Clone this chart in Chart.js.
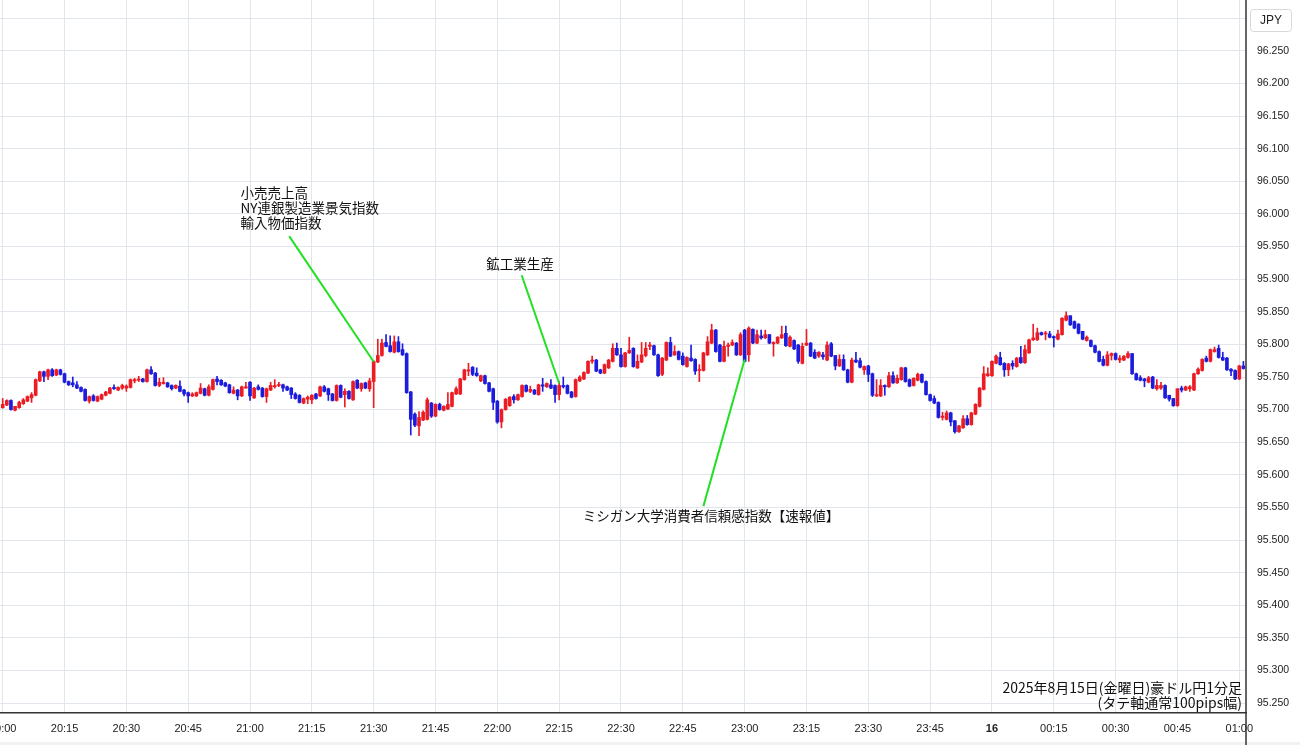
<!DOCTYPE html>
<html lang="ja">
<head>
<meta charset="utf-8">
<title>豪ドル円1分足</title>
<script src="https://cdn.jsdelivr.net/npm/chart.js@4.4.1/dist/chart.umd.min.js"></script>
<style>
  html, body { margin: 0; padding: 0; background: #fff; }
  #wrap { position: relative; width: 1300px; height: 745px; }
</style>
</head>
<body>
<div id="wrap"><canvas id="chart"></canvas></div>
<script>
// 1 candle per minute, index 0 = 20:00 (2025-08-15)
const openV = [
  95.703, 95.707, 95.714, 95.699, 95.703, 95.709, 95.713, 95.718, 95.722, 95.744,
  95.758, 95.751, 95.761, 95.753, 95.761, 95.755, 95.743, 95.741, 95.738, 95.734,
  95.731, 95.713, 95.721, 95.713, 95.716, 95.722, 95.725, 95.734, 95.730, 95.733,
  95.733, 95.734, 95.744, 95.745, 95.747, 95.743, 95.761, 95.756, 95.737, 95.740,
  95.741, 95.737, 95.733, 95.736, 95.730, 95.726, 95.721, 95.721, 95.725, 95.732,
  95.722, 95.731, 95.747, 95.745, 95.741, 95.738, 95.725, 95.730, 95.721, 95.733,
  95.742, 95.718, 95.735, 95.733, 95.720, 95.730, 95.735, 95.737, 95.738, 95.735,
  95.733, 95.724, 95.722, 95.710, 95.716, 95.715, 95.724, 95.721, 95.735, 95.732,
  95.724, 95.714, 95.737, 95.723, 95.728, 95.715, 95.745, 95.732, 95.741, 95.732,
  95.743, 95.773, 95.783, 95.803, 95.798, 95.788, 95.804, 95.792, 95.786, 95.727,
  95.693, 95.675, 95.684, 95.685, 95.710, 95.690, 95.708, 95.699, 95.701, 95.705,
  95.724, 95.724, 95.746, 95.759, 95.765, 95.756, 95.744, 95.752, 95.741, 95.732,
  95.713, 95.681, 95.700, 95.706, 95.720, 95.715, 95.720, 95.737, 95.728, 95.730,
  95.723, 95.738, 95.735, 95.738, 95.737, 95.723, 95.737, 95.737, 95.727, 95.720,
  95.744, 95.747, 95.756, 95.774, 95.776, 95.761, 95.756, 95.764, 95.774, 95.794,
  95.784, 95.766, 95.787, 95.794, 95.764, 95.773, 95.783, 95.797, 95.798, 95.784,
  95.754, 95.776, 95.803, 95.784, 95.789, 95.782, 95.766, 95.779, 95.777, 95.760,
  95.760, 95.784, 95.802, 95.822, 95.799, 95.774, 95.797, 95.799, 95.802, 95.784,
  95.822, 95.784, 95.823, 95.802, 95.813, 95.810, 95.815, 95.801, 95.802, 95.810,
  95.817, 95.797, 95.806, 95.799, 95.771, 95.799, 95.802, 95.788, 95.782, 95.784,
  95.776, 95.801, 95.783, 95.767, 95.777, 95.761, 95.742, 95.776, 95.775, 95.761,
  95.767, 95.755, 95.721, 95.721, 95.737, 95.735, 95.752, 95.741, 95.746, 95.764,
  95.746, 95.737, 95.745, 95.754, 95.743, 95.723, 95.717, 95.711, 95.688, 95.685,
  95.695, 95.683, 95.666, 95.672, 95.686, 95.677, 95.693, 95.705, 95.731, 95.752,
  95.752, 95.771, 95.780, 95.771, 95.761, 95.771, 95.766, 95.780, 95.772, 95.787,
  95.807, 95.807, 95.818, 95.816, 95.816, 95.812, 95.808, 95.815, 95.837, 95.844,
  95.835, 95.831, 95.820, 95.806, 95.806, 95.798, 95.789, 95.777, 95.768, 95.783,
  95.786, 95.776, 95.776, 95.780, 95.786, 95.755, 95.749, 95.747, 95.742, 95.750,
  95.732, 95.733, 95.737, 95.722, 95.717, 95.706, 95.733, 95.730, 95.732, 95.730,
  95.755, 95.760, 95.779, 95.774, 95.789, 95.794, 95.780, 95.779, 95.762, 95.760,
  95.747, 95.767
];
const highV = [
  95.717, 95.715, 95.715, 95.705, 95.713, 95.717, 95.721, 95.726, 95.747, 95.759,
  95.759, 95.762, 95.763, 95.762, 95.762, 95.756, 95.744, 95.750, 95.743, 95.735,
  95.732, 95.721, 95.723, 95.721, 95.724, 95.728, 95.734, 95.738, 95.735, 95.739,
  95.738, 95.747, 95.748, 95.751, 95.748, 95.762, 95.766, 95.757, 95.748, 95.749,
  95.742, 95.738, 95.738, 95.744, 95.731, 95.727, 95.726, 95.727, 95.740, 95.733,
  95.738, 95.747, 95.751, 95.746, 95.742, 95.739, 95.735, 95.731, 95.736, 95.742,
  95.743, 95.734, 95.738, 95.734, 95.733, 95.742, 95.746, 95.742, 95.739, 95.736,
  95.734, 95.726, 95.723, 95.718, 95.721, 95.723, 95.725, 95.736, 95.737, 95.733,
  95.725, 95.738, 95.738, 95.732, 95.729, 95.744, 95.746, 95.741, 95.742, 95.748,
  95.775, 95.808, 95.808, 95.815, 95.813, 95.813, 95.812, 95.801, 95.787, 95.728,
  95.695, 95.697, 95.698, 95.718, 95.711, 95.709, 95.710, 95.706, 95.726, 95.727,
  95.735, 95.748, 95.762, 95.771, 95.766, 95.764, 95.753, 95.753, 95.742, 95.733,
  95.714, 95.701, 95.717, 95.720, 95.723, 95.724, 95.738, 95.738, 95.736, 95.731,
  95.739, 95.748, 95.741, 95.746, 95.738, 95.743, 95.750, 95.738, 95.728, 95.747,
  95.752, 95.758, 95.775, 95.782, 95.777, 95.762, 95.770, 95.777, 95.801, 95.802,
  95.794, 95.788, 95.811, 95.795, 95.784, 95.803, 95.803, 95.803, 95.799, 95.785,
  95.780, 95.804, 95.811, 95.798, 95.790, 95.787, 95.781, 95.799, 95.778, 95.769,
  95.788, 95.812, 95.831, 95.823, 95.800, 95.805, 95.802, 95.807, 95.803, 95.818,
  95.823, 95.827, 95.824, 95.822, 95.822, 95.822, 95.815, 95.804, 95.812, 95.828,
  95.828, 95.813, 95.807, 95.800, 95.802, 95.823, 95.803, 95.792, 95.789, 95.788,
  95.804, 95.803, 95.783, 95.784, 95.784, 95.762, 95.779, 95.788, 95.779, 95.767,
  95.768, 95.756, 95.746, 95.746, 95.738, 95.757, 95.758, 95.753, 95.765, 95.765,
  95.747, 95.749, 95.756, 95.755, 95.744, 95.724, 95.721, 95.712, 95.696, 95.698,
  95.696, 95.683, 95.676, 95.691, 95.691, 95.696, 95.709, 95.734, 95.766, 95.764,
  95.775, 95.784, 95.788, 95.772, 95.771, 95.775, 95.780, 95.797, 95.799, 95.808,
  95.831, 95.825, 95.819, 95.820, 95.820, 95.813, 95.822, 95.841, 95.850, 95.844,
  95.836, 95.832, 95.820, 95.813, 95.807, 95.799, 95.790, 95.782, 95.789, 95.787,
  95.787, 95.783, 95.783, 95.789, 95.786, 95.756, 95.752, 95.748, 95.751, 95.751,
  95.746, 95.742, 95.738, 95.722, 95.717, 95.732, 95.736, 95.736, 95.737, 95.756,
  95.764, 95.778, 95.782, 95.793, 95.796, 95.799, 95.788, 95.780, 95.763, 95.761,
  95.768, 95.774
];
const lowV = [
  95.702, 95.706, 95.699, 95.698, 95.702, 95.708, 95.712, 95.711, 95.721, 95.743,
  95.743, 95.746, 95.751, 95.752, 95.753, 95.741, 95.737, 95.735, 95.732, 95.727,
  95.713, 95.710, 95.713, 95.712, 95.715, 95.721, 95.724, 95.731, 95.729, 95.731,
  95.728, 95.733, 95.741, 95.743, 95.742, 95.742, 95.754, 95.736, 95.735, 95.739,
  95.734, 95.730, 95.732, 95.727, 95.721, 95.711, 95.720, 95.720, 95.724, 95.721,
  95.721, 95.730, 95.738, 95.737, 95.735, 95.725, 95.724, 95.715, 95.720, 95.733,
  95.714, 95.717, 95.730, 95.719, 95.711, 95.729, 95.733, 95.735, 95.728, 95.729,
  95.717, 95.716, 95.710, 95.709, 95.709, 95.709, 95.716, 95.720, 95.727, 95.714,
  95.713, 95.713, 95.718, 95.704, 95.716, 95.714, 95.732, 95.728, 95.732, 95.728,
  95.703, 95.772, 95.782, 95.796, 95.788, 95.787, 95.788, 95.783, 95.725, 95.661,
  95.674, 95.660, 95.683, 95.684, 95.688, 95.689, 95.699, 95.698, 95.700, 95.704,
  95.723, 95.723, 95.745, 95.752, 95.752, 95.751, 95.743, 95.739, 95.727, 95.700,
  95.679, 95.672, 95.699, 95.705, 95.710, 95.714, 95.719, 95.727, 95.726, 95.723,
  95.722, 95.728, 95.734, 95.732, 95.711, 95.715, 95.733, 95.724, 95.718, 95.719,
  95.743, 95.746, 95.755, 95.771, 95.758, 95.755, 95.755, 95.763, 95.773, 95.783,
  95.765, 95.765, 95.786, 95.765, 95.763, 95.772, 95.781, 95.792, 95.783, 95.751,
  95.752, 95.775, 95.781, 95.783, 95.776, 95.768, 95.765, 95.774, 95.754, 95.743,
  95.759, 95.783, 95.801, 95.788, 95.773, 95.773, 95.782, 95.798, 95.783, 95.783,
  95.773, 95.774, 95.801, 95.801, 95.808, 95.809, 95.801, 95.782, 95.801, 95.809,
  95.797, 95.796, 95.792, 95.771, 95.770, 95.798, 95.781, 95.778, 95.780, 95.777,
  95.775, 95.781, 95.761, 95.766, 95.760, 95.741, 95.741, 95.772, 95.764, 95.754,
  95.743, 95.720, 95.720, 95.720, 95.722, 95.734, 95.740, 95.740, 95.745, 95.742,
  95.735, 95.736, 95.744, 95.741, 95.722, 95.713, 95.709, 95.687, 95.684, 95.684,
  95.675, 95.664, 95.665, 95.671, 95.676, 95.676, 95.692, 95.704, 95.730, 95.751,
  95.751, 95.770, 95.768, 95.751, 95.752, 95.762, 95.765, 95.771, 95.771, 95.786,
  95.806, 95.806, 95.814, 95.807, 95.810, 95.796, 95.807, 95.814, 95.836, 95.829,
  95.824, 95.816, 95.807, 95.805, 95.796, 95.787, 95.773, 95.767, 95.767, 95.776,
  95.776, 95.772, 95.775, 95.779, 95.754, 95.745, 95.744, 95.735, 95.741, 95.732,
  95.730, 95.731, 95.717, 95.713, 95.705, 95.705, 95.727, 95.729, 95.728, 95.729,
  95.754, 95.759, 95.773, 95.773, 95.788, 95.779, 95.775, 95.760, 95.752, 95.746,
  95.746, 95.762
];
const closeV = [
  95.708, 95.714, 95.700, 95.705, 95.711, 95.715, 95.720, 95.723, 95.746, 95.758,
  95.751, 95.761, 95.752, 95.761, 95.754, 95.742, 95.738, 95.738, 95.733, 95.728,
  95.714, 95.720, 95.714, 95.720, 95.723, 95.727, 95.733, 95.732, 95.734, 95.737,
  95.736, 95.746, 95.746, 95.747, 95.743, 95.761, 95.755, 95.737, 95.742, 95.742,
  95.735, 95.732, 95.737, 95.728, 95.724, 95.721, 95.724, 95.726, 95.733, 95.722,
  95.735, 95.746, 95.743, 95.738, 95.736, 95.726, 95.730, 95.721, 95.735, 95.735,
  95.721, 95.733, 95.731, 95.720, 95.732, 95.737, 95.737, 95.738, 95.733, 95.730,
  95.723, 95.717, 95.711, 95.717, 95.719, 95.722, 95.717, 95.735, 95.728, 95.723,
  95.714, 95.737, 95.719, 95.728, 95.717, 95.743, 95.733, 95.740, 95.733, 95.744,
  95.774, 95.783, 95.802, 95.797, 95.789, 95.804, 95.789, 95.784, 95.726, 95.685,
  95.676, 95.688, 95.696, 95.715, 95.690, 95.708, 95.700, 95.705, 95.708, 95.726,
  95.732, 95.747, 95.761, 95.761, 95.754, 95.752, 95.752, 95.740, 95.728, 95.711,
  95.681, 95.700, 95.716, 95.719, 95.715, 95.723, 95.737, 95.728, 95.731, 95.724,
  95.738, 95.736, 95.740, 95.733, 95.723, 95.737, 95.735, 95.725, 95.719, 95.746,
  95.750, 95.757, 95.774, 95.776, 95.759, 95.756, 95.769, 95.776, 95.794, 95.784,
  95.766, 95.787, 95.791, 95.766, 95.774, 95.784, 95.794, 95.799, 95.784, 95.752,
  95.779, 95.803, 95.782, 95.789, 95.777, 95.769, 95.780, 95.775, 95.759, 95.761,
  95.787, 95.804, 95.822, 95.789, 95.774, 95.797, 95.799, 95.803, 95.784, 95.815,
  95.774, 95.825, 95.802, 95.815, 95.810, 95.815, 95.802, 95.803, 95.811, 95.815,
  95.798, 95.811, 95.793, 95.774, 95.797, 95.802, 95.782, 95.779, 95.788, 95.781,
  95.799, 95.782, 95.767, 95.777, 95.761, 95.742, 95.776, 95.773, 95.765, 95.766,
  95.754, 95.722, 95.723, 95.737, 95.735, 95.752, 95.741, 95.748, 95.764, 95.743,
  95.736, 95.748, 95.754, 95.742, 95.723, 95.714, 95.710, 95.688, 95.690, 95.695,
  95.681, 95.666, 95.675, 95.686, 95.677, 95.695, 95.708, 95.733, 95.755, 95.755,
  95.774, 95.782, 95.769, 95.761, 95.770, 95.767, 95.779, 95.772, 95.792, 95.807,
  95.810, 95.818, 95.815, 95.817, 95.811, 95.810, 95.816, 95.840, 95.844, 95.830,
  95.825, 95.817, 95.808, 95.811, 95.797, 95.788, 95.774, 95.768, 95.784, 95.786,
  95.777, 95.779, 95.782, 95.786, 95.755, 95.746, 95.745, 95.744, 95.749, 95.733,
  95.737, 95.737, 95.718, 95.716, 95.706, 95.732, 95.730, 95.735, 95.735, 95.755,
  95.762, 95.777, 95.774, 95.792, 95.792, 95.780, 95.776, 95.761, 95.759, 95.747,
  95.767, 95.763
];

// axis ticks
const xTickMinutes = [0, 15, 30, 45, 60, 75, 90, 105, 120, 135, 150, 165, 180, 195, 210, 225, 240, 255, 270, 285, 300];
const xTickLabels = ['20:00', '20:15', '20:30', '20:45', '21:00', '21:15', '21:30', '21:45', '22:00', '22:15',
  '22:30', '22:45', '23:00', '23:15', '23:30', '23:45', '16', '00:15', '00:30', '00:45', '01:00'];
const yTickValues = [95.25, 95.30, 95.35, 95.40, 95.45, 95.50, 95.55, 95.60, 95.65, 95.70, 95.75,
  95.80, 95.85, 95.90, 95.95, 96.00, 96.05, 96.10, 96.15, 96.20, 96.25, 96.30];

// economic releases (text lines, label anchor, leader line start/end in minute/price)
const events = [
  { lines: ['小売売上高', 'NY連銀製造業景気指数', '輸入物価指数'], at: [57.7, 96.033], from: [69.5, 95.966], to: [90, 95.7735] },
  { lines: ['鉱工業生産'], at: [117.3, 95.923], from: [125.9, 95.906], to: [135, 95.740] },
  { lines: ['ミシガン大学消費者信頼感指数【速報値】'], at: [140.7, 95.537], from: [170, 95.552], to: [180, 95.777] }
];

const UP = '#ec1c24';
const DOWN = '#1c1cdc';
const GRID = '#e0e6ec';
const JP_FONT = '"Noto Sans CJK JP", "Noto Sans", sans-serif';
const AXIS_FONT = '"Liberation Sans", Arial, sans-serif';

const idx = openV.map((v, i) => i);
const bodies = idx.map(i => ({ x: i, y: [openV[i], closeV[i]] }));
const wicks = idx.map(i => ({ x: i, y: [lowV[i], highV[i]] }));

function candleColor(ctx) {
  const i = ctx.dataIndex;
  return closeV[i] >= openV[i] ? UP : DOWN;
}

// axis frame, JPY box, event notes, caption
const overlay = {
  id: 'overlay',
  afterDraw(chart) {
    const c = chart.ctx;
    const area = chart.chartArea;
    const sx = chart.scales.x, sy = chart.scales.y;
    c.save();

    c.fillStyle = '#f2f2f2';
    c.fillRect(0, chart.height - 3, chart.width, 3);

    c.strokeStyle = '#333';
    c.lineWidth = 1.5;
    c.beginPath();
    c.moveTo(area.right, 0);
    c.lineTo(area.right, chart.height);
    c.stroke();

    // JPY box
    c.fillStyle = '#fff';
    c.strokeStyle = '#d8d8d8';
    c.lineWidth = 1;
    c.beginPath();
    c.roundRect(area.right + 4.5, 9.5, 41, 22, 3);
    c.fill();
    c.stroke();
    c.fillStyle = '#222';
    c.font = '12px ' + AXIS_FONT;
    c.textAlign = 'center';
    c.textBaseline = 'middle';
    c.fillText('JPY', area.right + 25, 21);

    // event leader lines
    c.strokeStyle = '#22e022';
    c.lineWidth = 2;
    events.forEach(ev => {
      c.beginPath();
      c.moveTo(sx.getPixelForValue(ev.from[0]), sy.getPixelForValue(ev.from[1]));
      c.lineTo(sx.getPixelForValue(ev.to[0]), sy.getPixelForValue(ev.to[1]));
      c.stroke();
    });
    c.fillStyle = '#111';
    c.font = '13.5px ' + JP_FONT;
    c.textAlign = 'left';
    events.forEach(ev => {
      const x = sx.getPixelForValue(ev.at[0]);
      const y = sy.getPixelForValue(ev.at[1]);
      ev.lines.forEach((t, k) => c.fillText(t, x, y + k * 15));
    });

    // caption
    c.font = '14px ' + JP_FONT;
    c.textAlign = 'right';
    c.fillText('2025年8月15日(金曜日)豪ドル円1分足', area.right - 4, 688);
    c.fillText('(タテ軸通常100pips幅)', area.right - 4, 703);
    c.restore();
  }
};

new Chart(document.getElementById('chart'), {
  type: 'bar',
  data: {
    datasets: [
      { data: bodies, backgroundColor: candleColor, barThickness: 3, minBarLength: 1, grouped: false, order: 0 },
      { data: wicks, backgroundColor: candleColor, barThickness: 1, grouped: false, order: 1 }
    ]
  },
  options: {
    responsive: true,
    maintainAspectRatio: false,
    animation: false,
    layout: { padding: 0 },
    plugins: { legend: { display: false }, tooltip: { enabled: false } },
    scales: {
      x: {
        type: 'linear',
        min: -0.655,
        max: 301.63,
        offset: false,
        afterBuildTicks: s => { s.ticks = xTickMinutes.map(v => ({ value: v })); },
        afterFit: s => { s.height = 32; s.paddingLeft = 0; s.paddingRight = 0; },
        grid: { color: GRID, drawTicks: false, offset: false },
        border: { display: true, color: '#333', width: 1.5 },
        ticks: {
          autoSkip: false,
          maxRotation: 0,
          padding: 9,
          color: '#222',
          font: c => ({ family: AXIS_FONT, size: 11, weight: c.index === 16 ? 'bold' : 'normal' }),
          callback: (v, i) => xTickLabels[i]
        }
      },
      y: {
        position: 'right',
        min: 95.2347,
        max: 96.3282,
        afterBuildTicks: s => { s.ticks = yTickValues.map(v => ({ value: v })); },
        afterFit: s => { s.width = 54; s.paddingTop = 0; s.paddingBottom = 0; },
        grid: { color: GRID, drawTicks: false },
        border: { display: false },
        ticks: {
          padding: 11,
          color: '#222',
          font: { family: AXIS_FONT, size: 10.5 },
          callback: v => v.toFixed(3)
        }
      }
    }
  },
  plugins: [overlay]
});
</script>
</body>
</html>
